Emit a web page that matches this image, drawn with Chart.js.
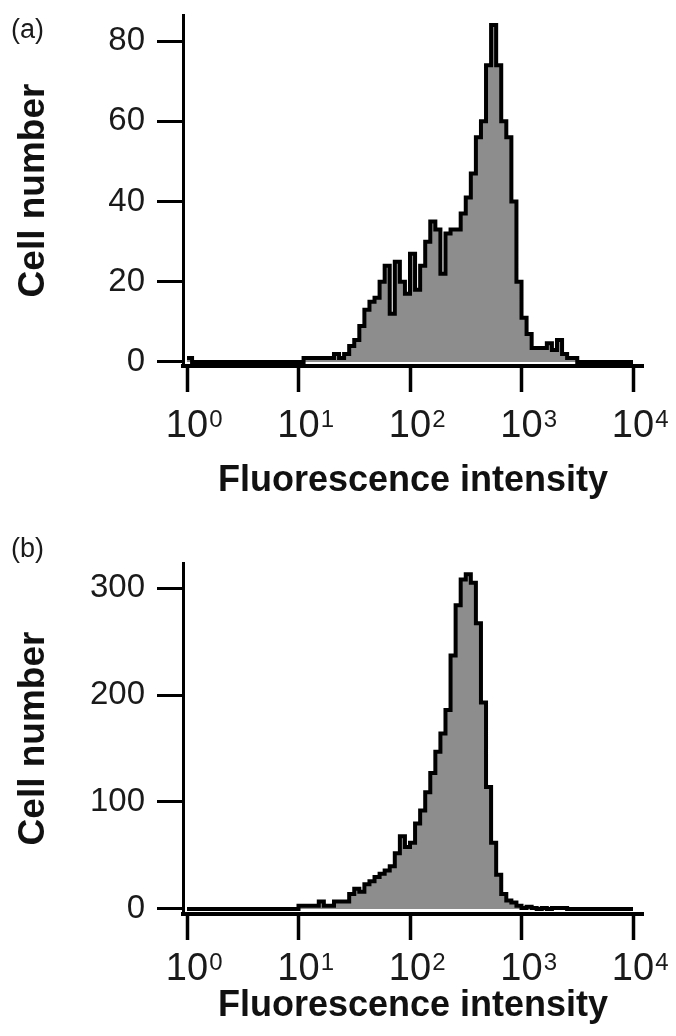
<!DOCTYPE html>
<html>
<head>
<meta charset="utf-8">
<title>Fluorescence histograms</title>
<script src="https://cdn.jsdelivr.net/npm/chart.js@4.4.1/dist/chart.umd.min.js"></script>
<style>
    body { margin: 0; background: #fff; font-family: "Liberation Sans", Arial, sans-serif; }
    .panel { position: relative; width: 676px; height: 518px; }
    .tag { position: absolute; left: 11px; font-size: 27px; color: #1a1a1a; z-index: 2; }
</style>
</head>
<body>
<div class="panel"><canvas id="chartA"></canvas><span class="tag" style="top: 14px">(a)</span></div>
<div class="panel"><canvas id="chartB"></canvas><span class="tag" style="top: 15px">(b)</span></div>
<script>
    // histogram channels: 22 per decade from 10^0 to 10^4
    const binsPerDecade = 22;
    const xTickExponents = [0, 1, 2, 3, 4];
    const yTicksA = [0, 20, 40, 60, 80];
    const yTicksB = [0, 100, 200, 300];

    const countsA = [
        1, 0, 0, 0, 0, 0, 0, 0, 0, 0, 0, 0, 0, 0, 0, 0, 0, 0, 0, 0, 0, 0,
        0, 1, 1, 1, 1, 1, 1, 2, 1, 2, 4, 5.5, 9, 13, 15, 16, 20, 24, 12, 25, 20, 17,
        27, 18, 24, 30, 35, 33, 22, 32, 33, 33, 37, 41, 47, 56, 60, 74, 84, 74, 60, 56,
        40, 20, 11, 7, 3.5, 3.5, 3.5, 4.7, 3, 5.5, 2, 1, 1,
        0, 0, 0, 0, 0, 0, 0, 0, 0, 0, 0
    ];
    const countsB = [
        0, 0, 0, 0, 0, 0, 0, 0, 0, 0, 0, 0, 0, 0, 0, 0, 0, 0, 0, 0, 0, 0,
        3, 3, 3, 3, 7, 3, 3, 7, 7, 7, 14, 19, 16, 23, 26, 30, 33, 36, 40, 52, 68, 58,
        62, 80, 92, 109, 127, 147, 164, 186, 237, 284, 308, 313, 305, 267, 193, 114, 62, 32,
        14, 8, 6, 3, 1, 2, 1, 0, 1, 0, 1, 1, 1,
        0, 0, 0, 0, 0, 0, 0, 0, 0, 0, 0, 0, 0
    ];

    const fontFamily = '"Liberation Sans", Arial, sans-serif';

    const histPoints = (counts) => {
        const points = counts.map((c, k) => ({ x: Math.pow(10, k / binsPerDecade), y: c }));
        points.push({ x: Math.pow(10, counts.length / binsPerDecade), y: counts[counts.length - 1] });
        return points;
    };

    // draws the 10^n tick labels with a real superscript
    const powerLabels = {
        id: "powerLabels",
        afterDraw(chart, args, opts) {
            const { ctx, chartArea } = chart;
            const xs = chart.scales.x;
            const baseY = chartArea.bottom + opts.offset;
            ctx.save();
            ctx.fillStyle = "#1a1a1a";
            ctx.textBaseline = "alphabetic";
            xTickExponents.forEach(e => {
                const px = xs.getPixelForValue(Math.pow(10, e));
                ctx.font = `38px ${fontFamily}`;
                ctx.textAlign = "center";
                ctx.fillText("10", px, baseY);
                const w = ctx.measureText("10").width;
                ctx.font = `24px ${fontFamily}`;
                ctx.textAlign = "left";
                ctx.fillText(String(e), px + w / 2 + 1, baseY - 10);
            });
            ctx.restore();
        }
    };

    const makeChart = (id, counts, yTicks, cfg) => {
        return new Chart(document.getElementById(id), {
            type: "line",
            data: {
                datasets: [{
                    data: histPoints(counts),
                    stepped: true,
                    fill: "origin",
                    backgroundColor: "#8d8d8d",
                    borderColor: "#000",
                    borderWidth: 4,
                    borderJoinStyle: "miter",
                    pointRadius: 0,
                }]
            },
            options: {
                responsive: true,
                maintainAspectRatio: false,
                animation: false,
                layout: { padding: { left: 0, top: cfg.top, right: 33, bottom: 0 } },
                plugins: {
                    legend: { display: false },
                    tooltip: { enabled: false },
                    powerLabels: { offset: cfg.labelOffset },
                },
                scales: {
                    x: {
                        type: "logarithmic",
                        min: 0.9207,
                        max: 12292,
                        afterBuildTicks: s => { s.ticks = xTickExponents.map(e => ({ value: Math.pow(10, e) })); },
                        ticks: { callback: () => "", autoSkip: false },
                        grid: { drawOnChartArea: false, drawTicks: true, tickLength: 26, tickWidth: 3.5, tickColor: "#000" },
                        border: { color: "#000", width: 4 },
                        title: {
                            display: true,
                            text: "Fluorescence intensity",
                            color: "#111",
                            font: { family: fontFamily, size: 36, weight: "bold" },
                            padding: { top: 0, bottom: cfg.titlePad },
                        },
                        afterFit: s => { s.height = cfg.xHeight; s.paddingLeft = 0; s.paddingRight = 0; },
                    },
                    y: {
                        min: cfg.yMin,
                        max: cfg.yMax,
                        afterBuildTicks: s => { s.ticks = yTicks.map(v => ({ value: v })); },
                        ticks: { color: "#1a1a1a", padding: 12, font: { family: fontFamily, size: 33 } },
                        grid: { drawOnChartArea: false, drawTicks: true, tickLength: 26, tickWidth: 3, tickColor: "#000" },
                        border: { color: "#000", width: 3 },
                        title: {
                            display: true,
                            text: "Cell number",
                            color: "#111",
                            font: { family: fontFamily, size: 37, weight: "bold" },
                            padding: { top: 12, bottom: 0 },
                        },
                        afterFit: s => { s.width = 183; s.paddingTop = 0; s.paddingBottom = 0; },
                    }
                }
            },
            plugins: [powerLabels]
        });
    };

    makeChart("chartA", countsA, yTicksA, { top: 15, xHeight: 152, titlePad: 15.4, labelOffset: 71, yMin: -1, yMax: 86.5 });
    makeChart("chartB", countsB, yTicksB, { top: 45, xHeight: 122, titlePad: 8.4, labelOffset: 66, yMin: -4.7, yMax: 323.4 });
</script>
</body>
</html>
